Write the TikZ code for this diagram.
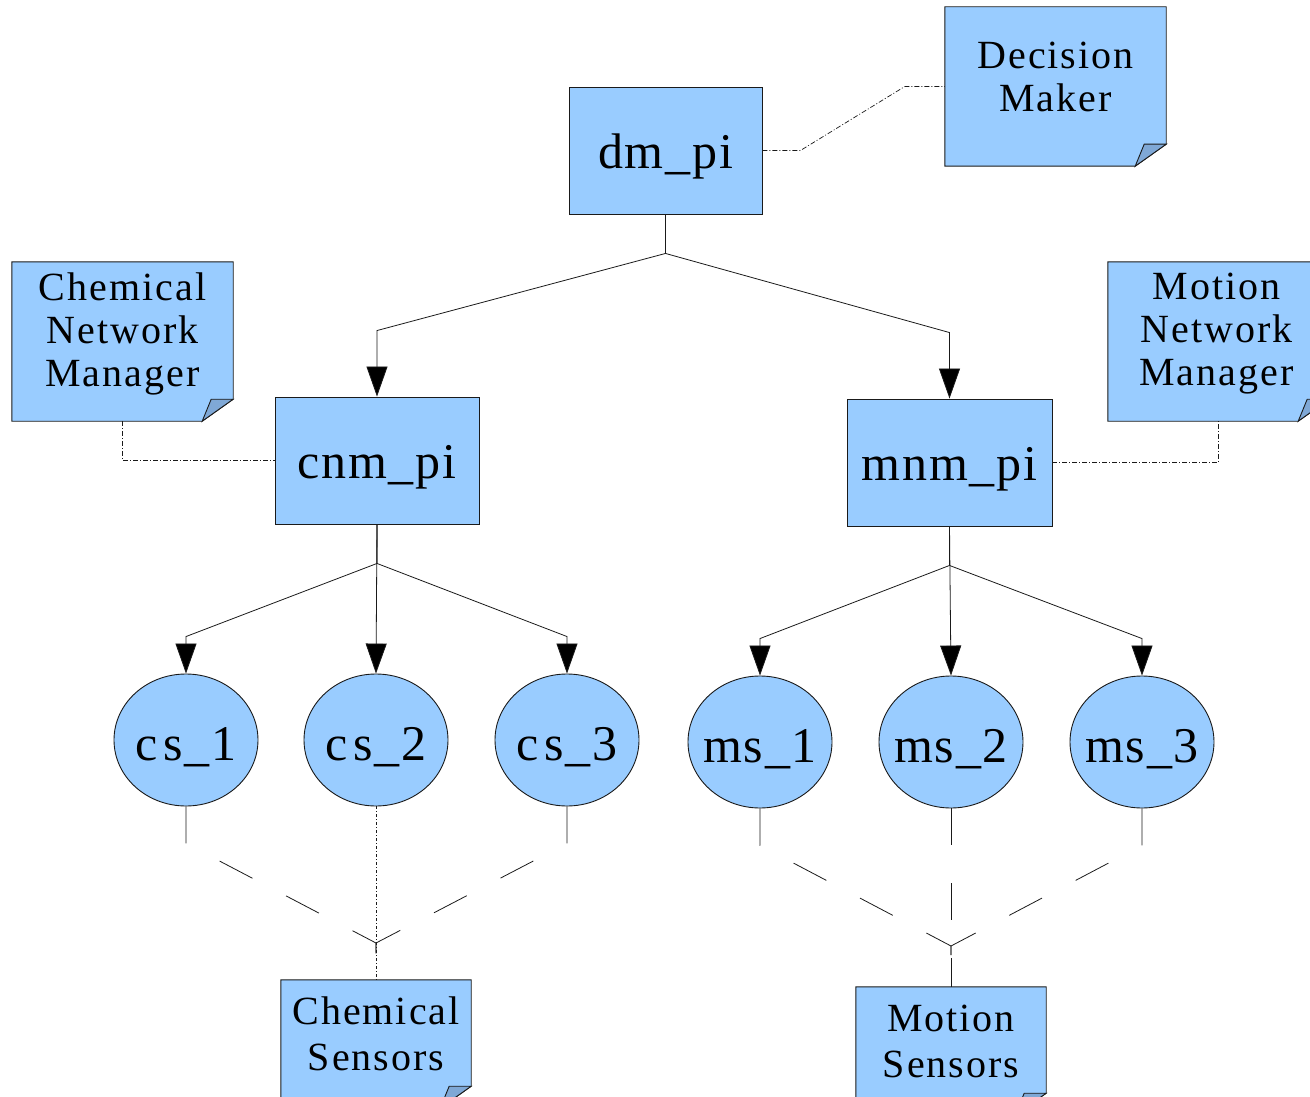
\documentclass[tikz,border=0pt]{standalone}
\usepackage{fontspec}
\setmainfont{Liberation Serif}
\newfontfamily\notefont[LetterSpace=5]{Liberation Serif}
\newfontfamily\boxfont[LetterSpace=3.5]{Liberation Serif}
\usetikzlibrary{arrows.meta,calc,shapes.geometric}
\pgfdeclarelayer{background}
\pgfsetlayers{background,main}

\definecolor{boxblue}{HTML}{99CCFF}
\definecolor{foldblue}{HTML}{7FA8D6}
\definecolor{edge}{HTML}{1A1A1A}

\tikzset{
  box/.style={draw=edge, fill=boxblue, line width=0.9pt, minimum width=193pt,
    minimum height=127pt, inner sep=0pt, text height=35pt, text depth=0pt,
    font=\fontsize{50}{55}\boxfont},
  sensor/.style={ellipse, draw=edge, fill=boxblue, line width=0.9pt,
    minimum width=144pt, minimum height=132pt, inner xsep=-8pt, inner ysep=0pt,
    text height=40pt, text depth=0pt, font=\fontsize{50}{55}\boxfont},
  note/.style={minimum width=221pt, minimum height=159pt, inner sep=0pt},
  smallnote/.style={minimum width=190pt, minimum height=128pt, inner sep=0pt},
  notetext/.style={inner sep=0pt, align=center, font=\fontsize{40}{43}\notefont},
  sensortext/.style={inner sep=0pt, align=center, font=\fontsize{40}{46}\notefont},
  link/.style={draw=edge, line width=0.8pt},
  tip/.style={-{Triangle[length=30pt,width=21pt,fill=black]}},
  memo/.style={draw=edge, line width=0.7pt, dash pattern=on 5pt off 2pt on 1pt off 2pt},
  feed/.style={draw=edge, line width=0.8pt, dash pattern=on 37pt off 38pt},
  fine/.style={draw=edge, line width=0.6pt, dash pattern=on 3pt off 2pt on 1pt off 2pt},
}

% sticky note outline with a folded bottom-right corner
\newcommand\foldnote[1]{%
  \filldraw[fill=boxblue, draw=edge, line width=0.9pt]
    (#1.north west) -- (#1.north east) -- ([yshift=22pt]#1.south east)
    -- ([xshift=-31pt]#1.south east) -- (#1.south west) -- cycle;
  \filldraw[fill=foldblue, draw=edge, line width=0.9pt]
    ([yshift=22pt]#1.south east) -- ([xshift=-22pt,yshift=22pt]#1.south east)
    -- ([xshift=-31pt]#1.south east) -- cycle;}

\begin{document}
\begin{tikzpicture}[x=1pt, y=-1pt]
  \useasboundingbox (0,0) rectangle (1310,1097);
  \clip (0,0) rectangle (1310,1097);

  % processes
  \node[box] (dm)  at (665.5,150.5) {dm\_pi};
  \node[box, minimum width=204pt] (cnm) at (377,460.5) {cnm\_pi};
  \node[box, minimum width=205pt] (mnm) at (949.5,462.5) {mnm\_pi};

  % sensors
  \node[sensor] (cs1) at (186,740) {c\kern6pt s\_1};
  \node[sensor] (cs2) at (376,740) {c\kern6pt s\_2};
  \node[sensor] (cs3) at (567,740) {c\kern6pt s\_3};
  \node[sensor] (ms1) at (760,742) {ms\_1};
  \node[sensor] (ms2) at (951,742) {ms\_2};
  \node[sensor] (ms3) at (1142,742) {ms\_3};

  % notes
  \node[note] (dmnote)  at (1055.5,86.5)  {};
  \node[note] (cnmnote) at (122.5,341.5) {};
  \node[note] (mnmnote) at (1218.5,341.5) {};
  \node[smallnote] (csnote) at (376,1044) {};
  \node[smallnote] (msnote) at (951,1051) {};

  \begin{pgfonlayer}{background}
    \foldnote{dmnote}
    \foldnote{cnmnote}
    \foldnote{mnmnote}
    \foldnote{csnote}
    \foldnote{msnote}
  \end{pgfonlayer}

  \node[notetext] (dmlabel)  at ([yshift=10pt]dmnote.center) {Decision\\Maker};
  \node[notetext] (cnmlabel) at ([yshift=8pt]cnmnote.center) {Chemical\\Network\\Manager};
  \node[notetext] (mnmlabel) at ([xshift=-2pt,yshift=8pt]mnmnote.center) {Motion\\Network\\Manager};
  \node[sensortext] (cslabel) at ([yshift=10pt]csnote.center) {Chemical\\Sensors};
  \node[sensortext] (mslabel) at ([yshift=10pt]msnote.center) {Motion\\Sensors};

  % hierarchy
  \draw[link, tip] (dm.south) -- ++(0,39) -- ($(cnm.north)+(0,-66)$) -- (cnm.north);
  \draw[link, tip] (dm.south) -- ++(0,39) -- ($(mnm.north)+(0,-66)$) -- (mnm.north);

  \draw[link, tip] (cnm.south) -- ++(0,39) -- ($(cs1.north)+(0,-37)$) -- (cs1.north);
  \draw[link, tip] (cnm.south) -- (cs2.north);
  \draw[link, tip] (cnm.south) -- ++(0,39) -- ($(cs3.north)+(0,-37)$) -- (cs3.north);

  \draw[link, tip] (mnm.south) -- ++(0,39) -- ($(ms1.north)+(0,-37)$) -- (ms1.north);
  \draw[link, tip] (mnm.south) -- (ms2.north);
  \draw[link, tip] (mnm.south) -- ++(0,39) -- ($(ms3.north)+(0,-37)$) -- (ms3.north);

  % note attachments
  \draw[memo] (dm.east) -- ++(38,0) -- ($(dmnote.west)+(-40,0)$) -- (dmnote.west);
  \draw[memo] (cnmnote.south) -- (cnmnote.south |- cnm.west) -- (cnm.west);
  \draw[memo] (mnm.east) -- (mnmnote.south |- mnm.east) -- (mnmnote.south);

  % sensor groups
  \coordinate (cj) at (376,943);
  \coordinate (mj) at (951,946);
  \draw[feed] (cs1.south) -- ++(0,37) -- (cj) -- (csnote.north);
  \draw[feed] (cs3.south) -- ++(0,37) -- (cj) -- (csnote.north);
  \draw[fine] (cs2.south) -- (csnote.north);

  \draw[feed] (ms1.south) -- ++(0,37) -- (mj) -- (msnote.north);
  \draw[feed] (ms3.south) -- ++(0,37) -- (mj) -- (msnote.north);
  \draw[feed] (ms2.south) -- (msnote.north);
\end{tikzpicture}
\end{document}
